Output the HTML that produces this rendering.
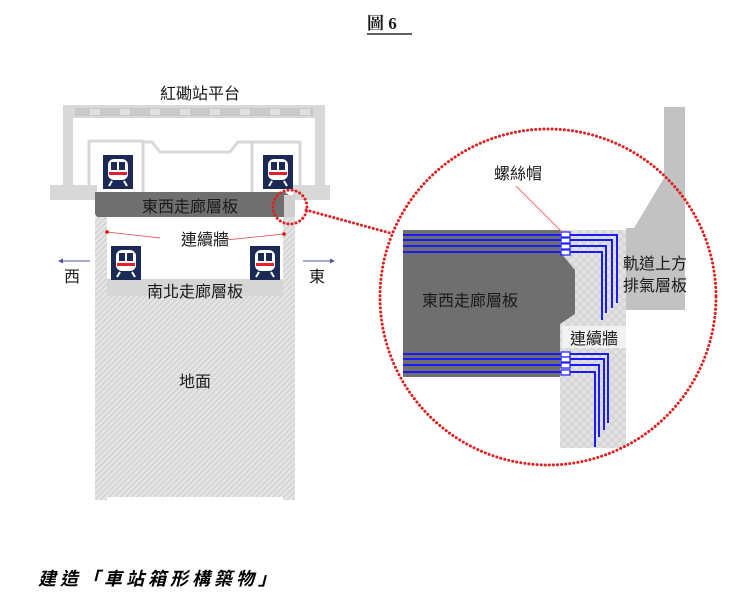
<!DOCTYPE html>
<html><head><meta charset="utf-8"><style>
html,body{margin:0;padding:0;background:#fff;width:740px;height:603px;overflow:hidden}
svg{display:block}
text{font-family:"Liberation Sans","Noto Sans CJK TC",sans-serif;fill:#1a1a1a}
</style></head><body>
<svg width="740" height="603" viewBox="0 0 740 603" xmlns="http://www.w3.org/2000/svg">
<defs>
<pattern id="hatch" width="4" height="4" patternUnits="userSpaceOnUse" patternTransform="rotate(45)">
<rect width="4" height="4" fill="#e4e4e4"/><line x1="0" y1="0" x2="0" y2="4" stroke="#c4c4c4" stroke-width="1.6"/>
</pattern>
<pattern id="cross" width="8" height="8" patternUnits="userSpaceOnUse">
<rect width="8" height="8" fill="#e2e2e2"/><path d="M0 4 L4 0 M4 8 L8 4 M0 4 L4 8 M4 0 L8 4" stroke="#d0d0d0" stroke-width="1"/>
</pattern>
<g id="train">
<rect x="0" y="0" width="30" height="34" fill="#1b2a55"/>
<rect x="5" y="4" width="20" height="21" rx="6" fill="#fff"/>
<rect x="8" y="7" width="6" height="8" fill="#1b2a55"/><rect x="16" y="7" width="6" height="8" fill="#1b2a55"/>
<rect x="6" y="17" width="18" height="3" fill="#e0202a"/>
<path d="M9 26 L6 31 M21 26 L24 31" stroke="#fff" stroke-width="2"/>
</g>
</defs>

<text x="367" y="29" font-size="17" font-weight="bold" style="font-family:'Liberation Serif','Noto Serif CJK SC',serif">圖 6</text>
<line x1="367" y1="34" x2="412" y2="34" stroke="#000" stroke-width="1.2"/>

<text x="200" y="99" font-size="16" text-anchor="middle">紅磡站平台</text>
<path d="M63 105 H325 V190 H315 V118 H73 V190 H63 Z" fill="#d8d8d8"/>
<rect x="75" y="108" width="238" height="8" fill="#c9c9c9"/>
<g fill="#e0e0e0"><rect x="90" y="109" width="10" height="6"/><rect x="120" y="109" width="10" height="6"/><rect x="150" y="109" width="10" height="6"/><rect x="180" y="109" width="10" height="6"/><rect x="210" y="109" width="10" height="6"/><rect x="240" y="109" width="10" height="6"/><rect x="270" y="109" width="10" height="6"/><rect x="300" y="109" width="10" height="6"/></g>
<path d="M89 192 V141 H143 V192 M143 142 L152 142 L160 152 H230 L238 142 H252 V192 M252 142 H300 V192" fill="none" stroke="#d8d8d8" stroke-width="3"/>
<rect x="50" y="185" width="47" height="15" fill="#d8d8d8"/>
<rect x="293" y="185" width="37" height="15" fill="#d8d8d8"/>
<use href="#train" x="103" y="155"/>
<use href="#train" x="263" y="155"/>
<rect x="95" y="217" width="12" height="283" fill="url(#hatch)"/>
<rect x="283" y="217" width="12" height="283" fill="url(#hatch)"/>
<rect x="107" y="296" width="176" height="201" fill="url(#hatch)"/>
<path d="M95 192 H285 L292 198 V214 L287 217 H97 L95 214 Z" fill="#6f6f6f"/>
<rect x="284" y="195" width="11" height="22" fill="#cfcfcf"/>
<text x="190" y="212" font-size="16" text-anchor="middle">東西走廊層板</text>
<rect x="107" y="279" width="176" height="17" fill="#d6d6d6"/>
<text x="195" y="297" font-size="16" text-anchor="middle">南北走廊層板</text>
<text x="195" y="387" font-size="16" text-anchor="middle">地面</text>
<use href="#train" x="111" y="246"/>
<use href="#train" x="250" y="246"/>
<text x="205" y="245" font-size="16" text-anchor="middle">連續牆</text>
<line x1="107" y1="232" x2="160" y2="238" stroke="#e04040" stroke-width="0.8"/>
<line x1="284" y1="234" x2="226" y2="240" stroke="#e04040" stroke-width="0.8"/>
<circle cx="107" cy="232" r="1.8" fill="#e00"/><circle cx="284" cy="234" r="1.8" fill="#e00"/>
<line x1="60" y1="261" x2="90" y2="261" stroke="#5055a0" stroke-width="1"/><path d="M58 261 L63 258.5 V263.5 Z" fill="#5055a0"/>
<line x1="303" y1="261" x2="333" y2="261" stroke="#5055a0" stroke-width="1"/><path d="M335 261 L330 258.5 V263.5 Z" fill="#5055a0"/>
<text x="72" y="282" font-size="16" text-anchor="middle">西</text>
<text x="317" y="282" font-size="16" text-anchor="middle">東</text>

<circle cx="290" cy="207" r="17" fill="none" stroke="#e02020" stroke-width="3" stroke-dasharray="0.1 4" stroke-linecap="round"/>
<line x1="306" y1="210" x2="390" y2="233" stroke="#e02020" stroke-width="3" stroke-dasharray="0.1 4" stroke-linecap="round"/>

<path d="M664 107 H685 V310 H626 V228 H634 L664 178 Z" fill="#c2c2c2"/>
<rect x="560" y="230" width="66" height="218" fill="url(#cross)"/>
<path d="M403 230 H560 V252 L575 270 V314 L560 324 V377 H403 Z" fill="#6f6f6f"/>
<rect x="562" y="326" width="64" height="22" fill="#f2f2f2"/>
<g fill="none" stroke="#1a1aff" stroke-width="2">
<path d="M403 235 H617 V303"/><path d="M403 240 H612 V308"/><path d="M403 246 H606 V313"/><path d="M403 252 H602 V320"/>
<path d="M403 354 H608 V423"/><path d="M403 359 H604 V430"/><path d="M403 365 H599 V437"/><path d="M403 372 H595 V447"/>
</g>
<g fill="#fff" stroke="#1a1aff" stroke-width="1.2">
<rect x="561" y="232" width="9" height="5"/><rect x="561" y="238" width="9" height="5"/><rect x="561" y="244" width="9" height="5"/><rect x="561" y="250" width="9" height="5"/>
<rect x="561" y="352" width="9" height="5"/><rect x="561" y="357" width="9" height="5"/><rect x="561" y="363" width="9" height="5"/><rect x="561" y="370" width="9" height="5"/>
</g>
<text x="470" y="306" font-size="16" text-anchor="middle">東西走廊層板</text>
<text x="594" y="344" font-size="16" text-anchor="middle">連續牆</text>
<text x="655" y="269" font-size="16" text-anchor="middle">軌道上方</text>
<text x="655" y="291" font-size="16" text-anchor="middle">排氣層板</text>
<text x="518" y="179" font-size="16" text-anchor="middle">螺絲帽</text>
<line x1="516" y1="186" x2="562" y2="232" stroke="#e04040" stroke-width="0.8"/>
<circle cx="548" cy="297" r="168" fill="none" stroke="#e02020" stroke-width="3" stroke-dasharray="0.1 4" stroke-linecap="round"/>

<text x="38" y="585" font-size="18" font-weight="bold" font-style="italic" letter-spacing="4" style="fill:#000">建造「車站箱形構築物」</text>
</svg>
</body></html>
